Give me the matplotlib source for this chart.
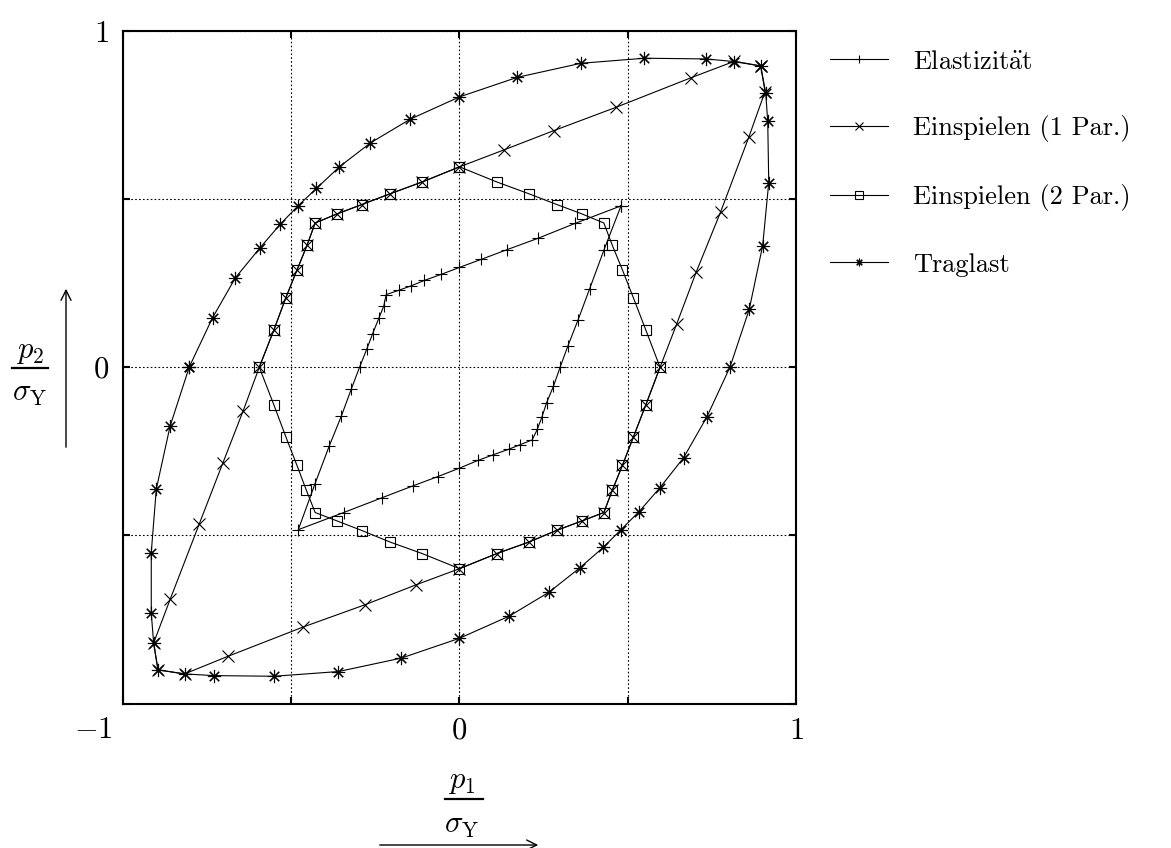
import matplotlib
matplotlib.use('Agg')
import matplotlib.pyplot as plt
from matplotlib.lines import Line2D
from matplotlib.patches import FancyArrowPatch

plt.rcParams['font.family'] = ['cmr10', 'DejaVu Serif']
plt.rcParams['mathtext.fontset'] = 'cm'
plt.rcParams['axes.formatter.use_mathtext'] = True

# Elastizitaet (+)
ela_x = [0.480, 0.344, 0.232, 0.142, 0.065, 0.000, -0.055, -0.105, -0.144, -0.180, -0.218,
         -0.225, -0.240, -0.258, -0.276, -0.297, -0.322, -0.351, -0.387, -0.430, -0.479,
         -0.344, -0.230, -0.139, -0.064, 0.000, 0.055, 0.101, 0.146, 0.181, 0.216,
         0.231, 0.245, 0.259, 0.279, 0.299, 0.322, 0.352, 0.387, 0.429, 0.480]
ela_y = [0.480, 0.428, 0.383, 0.350, 0.321, 0.297, 0.276, 0.258, 0.242, 0.229, 0.216,
         0.182, 0.145, 0.100, 0.053, 0.000, -0.066, -0.145, -0.234, -0.348, -0.483,
         -0.432, -0.388, -0.353, -0.325, -0.300, -0.277, -0.260, -0.244, -0.230, -0.216,
         -0.185, -0.148, -0.105, -0.057, 0.000, 0.063, 0.140, 0.234, 0.348, 0.480]

# Einspielen, 1 Parameter (x)
e1_x = [0.895, 0.908, 0.860, 0.776, 0.703, 0.646, 0.596, 0.554, 0.517, 0.484, 0.454, 0.429,
        0.364, 0.289, 0.206, 0.111, 0.000, -0.129, -0.280, -0.466, -0.689, -0.817, -0.896,
        -0.909, -0.859, -0.773, -0.703, -0.643, -0.595, -0.552, -0.516, -0.483, -0.453, -0.429,
        -0.364, -0.290, -0.206, -0.111, 0.000, 0.131, 0.281, 0.465, 0.688, 0.817, 0.895]
e1_y = [0.896, 0.820, 0.685, 0.462, 0.282, 0.130, 0.000, -0.111, -0.207, -0.292, -0.366, -0.432,
        -0.457, -0.485, -0.520, -0.554, -0.599, -0.647, -0.706, -0.773, -0.860, -0.912, -0.900,
        -0.820, -0.688, -0.465, -0.284, -0.130, 0.000, 0.110, 0.207, 0.289, 0.363, 0.429,
        0.456, 0.484, 0.516, 0.551, 0.596, 0.646, 0.704, 0.773, 0.861, 0.910, 0.896]

# Einspielen, 2 Parameter (squares)
e2_x = [0.000, 0.111, 0.206, 0.289, 0.364, 0.429, 0.454, 0.484, 0.517, 0.554, 0.596,
        0.554, 0.517, 0.484, 0.454, 0.429, 0.364, 0.289, 0.206, 0.111, 0.000,
        -0.111, -0.206, -0.289, -0.364, -0.429, -0.455, -0.483, -0.516, -0.552, -0.595,
        -0.552, -0.516, -0.483, -0.453, -0.429, -0.364, -0.290, -0.206, -0.111, 0.000]
e2_y = [0.596, 0.551, 0.516, 0.484, 0.456, 0.429, 0.363, 0.290, 0.206, 0.110, 0.000,
        -0.111, -0.207, -0.292, -0.366, -0.432, -0.457, -0.485, -0.520, -0.554, -0.599,
        -0.554, -0.520, -0.486, -0.457, -0.432, -0.366, -0.292, -0.207, -0.111, 0.000,
        0.110, 0.207, 0.289, 0.363, 0.429, 0.456, 0.484, 0.516, 0.551, 0.596]

# Traglast (asterisk)
tr_x = [-0.803, -0.734, -0.666, -0.593, -0.532, -0.480, -0.425, -0.357, -0.265, -0.146, 0.000,
        0.171, 0.361, 0.549, 0.732, 0.817, 0.895, 0.910, 0.916, 0.919, 0.901, 0.861, 0.804,
        0.735, 0.666, 0.595, 0.534, 0.480, 0.427, 0.357, 0.266, 0.148, 0.000,
        -0.173, -0.360, -0.551, -0.731, -0.817, -0.896, -0.909, -0.916, -0.916, -0.901, -0.860, -0.803]
tr_y = [0.001, 0.147, 0.266, 0.355, 0.426, 0.480, 0.532, 0.596, 0.667, 0.738, 0.804,
        0.862, 0.904, 0.919, 0.917, 0.909, 0.896, 0.816, 0.731, 0.549, 0.362, 0.172, 0.001,
        -0.148, -0.269, -0.359, -0.429, -0.483, -0.536, -0.597, -0.669, -0.740, -0.806,
        -0.865, -0.905, -0.919, -0.917, -0.912, -0.900, -0.820, -0.731, -0.551, -0.362, -0.175, 0.001]

labels = [r'Elastizit$\ddot{\mathrm{a}}$t', 'Einspielen (1 Par.)', 'Einspielen (2 Par.)', 'Traglast']
ticks = [-1, -0.5, 0, 0.5, 1]

W, H = 1171, 848
fig = plt.figure(figsize=(W / 100, H / 100), dpi=100)
ax = fig.add_axes([123 / W, 1 - 703.5 / H, 673 / W, 672.5 / H])

lw = 0.8
ax.plot(ela_x, ela_y, color='k', lw=lw, marker='+', ms=9, mew=lw, label=labels[0])
ax.plot(e1_x, e1_y, color='k', lw=lw, marker='x', ms=8.5, mew=lw, label=labels[1])
ax.plot(e2_x, e2_y, color='k', lw=lw, marker='s', ms=7.5, mew=lw, mfc='none', label=labels[2])
ax.plot(tr_x, tr_y, color='k', lw=lw, marker=(8, 2, 0), ms=9.5, mew=lw, label=labels[3])

ax.set_xlim(-1, 1)
ax.set_ylim(-1, 1)
ax.set_xticks(ticks)
ax.set_yticks(ticks)
ax.set_xticklabels(['', '', '$0$', '', '$1$'], fontsize=22)
ax.set_yticklabels(['', '', '$0$', '', '$1$'], fontsize=22)
ax.text(-0.016, -0.04, '$-1$', transform=ax.transAxes, ha='right', va='center', fontsize=22)
ax.tick_params(direction='in', length=5, width=1.5, top=True, right=True, pad=10)
for s in ax.spines.values():
    s.set_linewidth(1.5)
ax.grid(True, color='k', lw=0.8, linestyle=(0, (1.5, 2)))
ax.set_axisbelow(True)

leg = fig.legend(loc='upper left', bbox_to_anchor=(830 / W, 1 - 50 / H), frameon=False,
                 fontsize=19, handlelength=2.2, handletextpad=0.95, labelspacing=1.58,
                 borderpad=0, borderaxespad=0)
for h in leg.legend_handles:
    h.set_markersize(5.5)

# axis labels: fraction built from numerator, bar and denominator, plus arrow
fs = 22
fig.text(462 / W, 1 - 782 / H, r'$p_1$', ha='center', va='center', fontsize=fs)
fig.add_artist(Line2D([445 / W, 483 / W], [1 - 799 / H, 1 - 799 / H], color='k', lw=1.6))
fig.text(462 / W, 1 - 826 / H, r'$\sigma_\mathrm{Y}$', ha='center', va='center', fontsize=fs)
fig.add_artist(FancyArrowPatch((377 / W, 1 - 845 / H), (541 / W, 1 - 845 / H),
               transform=fig.transFigure, arrowstyle='->', mutation_scale=18, color='k', lw=1))

fig.text(30 / W, 1 - 352 / H, r'$p_2$', ha='center', va='center', fontsize=fs)
fig.add_artist(Line2D([12 / W, 48 / W], [1 - 368 / H, 1 - 368 / H], color='k', lw=1.6))
fig.text(30 / W, 1 - 394 / H, r'$\sigma_\mathrm{Y}$', ha='center', va='center', fontsize=fs)
fig.add_artist(FancyArrowPatch((66 / W, 1 - 450 / H), (66 / W, 1 - 286 / H),
               transform=fig.transFigure, arrowstyle='->', mutation_scale=18, color='k', lw=1))

fig.savefig('out.png', dpi=100)
